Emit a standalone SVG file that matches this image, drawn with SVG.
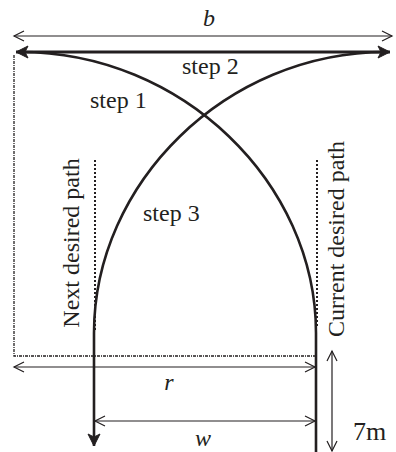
<svg xmlns="http://www.w3.org/2000/svg" width="396" height="452" viewBox="0 0 396 452">
<defs>
<style>
.t{font-family:"Liberation Serif","Times New Roman",serif;font-size:24px;fill:#231f20}
.i{font-style:italic}
.big{font-size:26px}
.thin{stroke:#231f20;stroke-width:1.2;fill:none}
.thick{stroke:#231f20;stroke-width:2.6;fill:none}
.bar{stroke:#231f20;stroke-width:3;fill:none}
.dd{stroke:#231f20;stroke-width:1.3;fill:none;stroke-dasharray:3 1 1 1}
.dot{stroke:#231f20;stroke-width:2;fill:none;stroke-dasharray:2 2}
</style>
<marker id="open" viewBox="-12 -7 14 14" refX="0" refY="0" markerWidth="14" markerHeight="14" markerUnits="userSpaceOnUse" orient="auto-start-reverse">
<path d="M-10,-5 L0,0 L-10,5" fill="none" stroke="#231f20" stroke-width="1.2"/>
</marker>
<marker id="solid" viewBox="-14 -8 16 16" refX="0" refY="0" markerWidth="16" markerHeight="16" markerUnits="userSpaceOnUse" orient="auto-start-reverse">
<path d="M-12,-6 L0,0 L-12,6 L-9,0 z" fill="#231f20" stroke="#231f20" stroke-width="1" stroke-linejoin="miter"/>
</marker>
</defs>
<rect width="396" height="452" fill="#fff"/>
<g id="connectors">
<path id="guide-left" class="dd" d="M14,55 L14,356 L316,356"/>
<path id="dim-b" class="thin" d="M14,36 L392,36" marker-start="url(#open)" marker-end="url(#open)"/>
<path id="step2" class="bar" d="M16,52 L390,52" marker-start="url(#solid)" marker-end="url(#solid)"/>
<path id="step1" class="thick" d="M20,52 C182,52 316,183 316,333 L316,452"/>
<path id="step3" class="thick" d="M386,52 C226,52 94,183 94,333 L94,446" marker-end="url(#solid)"/>
<path id="next-path" class="dot" d="M95,160 L95,330"/>
<path id="cur-path" class="dot" d="M317,160 L317,328"/>
<path id="dim-r" class="thin" d="M14,367 L315,367" marker-start="url(#open)" marker-end="url(#open)"/>
<path id="dim-w" class="thin" d="M95,421 L315,421" marker-start="url(#open)" marker-end="url(#open)"/>
<path id="dim-7m" class="thin" d="M332,351 L332,451" marker-start="url(#open)" marker-end="url(#open)"/>
</g>
<g id="labels">
<text class="t i" x="209" y="26" text-anchor="middle">b</text>
<text class="t" x="182" y="74">step 2</text>
<text class="t" x="90" y="108">step 1</text>
<text class="t" x="143" y="221">step 3</text>
<text class="t i" x="169" y="390" text-anchor="middle">r</text>
<text class="t i" x="203" y="446" text-anchor="middle">w</text>
<text class="t big" x="353" y="440">7m</text>
<text class="t" transform="translate(79,243) rotate(-90)" text-anchor="middle">Next desired path</text>
<text class="t" transform="translate(344,239) rotate(-90)" text-anchor="middle">Current desired path</text>
</g>
</svg>
